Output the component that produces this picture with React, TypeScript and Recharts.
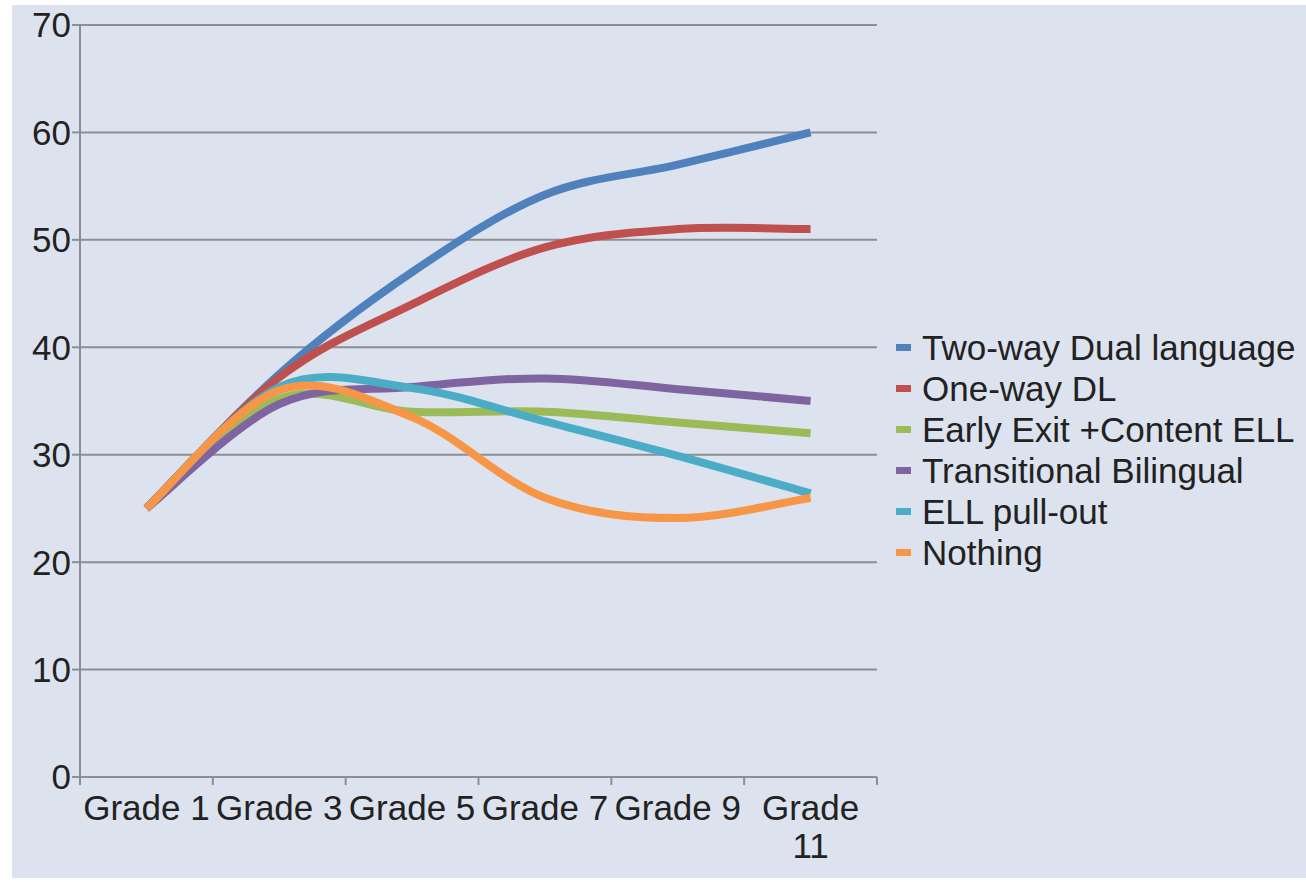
import { LineChart, Line, XAxis, YAxis, CartesianGrid } from 'recharts';

const grades = ['Grade 1', 'Grade 3', 'Grade 5', 'Grade 7', 'Grade 9', 'Grade 11'];
const twoWay = [25, 37.5, 47, 54.2, 57, 60];
const oneWay = [25, 37.2, 44, 49.3, 51, 51];
const earlyExit = [25, 35.2, 34, 34, 33, 32];
const transitional = [25, 34.7, 36.3, 37.1, 36.1, 35];
const pullOut = [25, 36.3, 36.2, 33.1, 29.9, 26.4];
const nothing = [25, 36, 33.5, 26, 24.1, 26];
const yTicks = [0, 10, 20, 30, 40, 50, 60, 70];

const series = [
  { key: 'twoWay', name: 'Two-way Dual language', color: '#4f81bd', values: twoWay },
  { key: 'oneWay', name: 'One-way DL', color: '#c0504d', values: oneWay },
  { key: 'earlyExit', name: 'Early Exit +Content ELL', color: '#9bbb59', values: earlyExit },
  { key: 'transitional', name: 'Transitional Bilingual', color: '#8064a2', values: transitional },
  { key: 'pullOut', name: 'ELL pull-out', color: '#4bacc6', values: pullOut },
  { key: 'nothing', name: 'Nothing', color: '#f79646', values: nothing },
];

const data = grades.map((grade, i) => {
  const row: Record<string, string | number> = { grade };
  series.forEach((s) => (row[s.key] = s.values[i]));
  return row;
});

const FONT = '"Liberation Sans", Arial, sans-serif';
const AXIS = '#8a8f96';
const PLOT_W = 797;
const BAND = PLOT_W / grades.length;
const FS = 35;

// smooth line like the spreadsheet one (catmull-rom through every point)
const smooth = (context: any) => {
  let pts: number[][] = [];
  return {
    areaStart() {},
    areaEnd() {},
    lineStart() {
      pts = [];
    },
    point(x: number, y: number) {
      pts.push([+x, +y]);
    },
    lineEnd() {
      if (!pts.length) return;
      context.moveTo(pts[0][0], pts[0][1]);
      for (let i = 0; i < pts.length - 1; i++) {
        const p0 = pts[Math.max(i - 1, 0)];
        const p1 = pts[i];
        const p2 = pts[i + 1];
        const p3 = pts[Math.min(i + 2, pts.length - 1)];
        context.bezierCurveTo(
          p1[0] + (p2[0] - p0[0]) / 6,
          p1[1] + (p2[1] - p0[1]) / 6,
          p2[0] - (p3[0] - p1[0]) / 6,
          p2[1] - (p3[1] - p1[1]) / 6,
          p2[0],
          p2[1]
        );
      }
    },
  };
};

const GradeTick = (props: any) => {
  const { x, y, payload, index } = props;
  const half = BAND / 2;
  const label = String(payload.value);
  // rough width check, long labels wrap onto two lines
  const lines = label.length * FS * 0.5 > BAND ? label.split(' ') : [label];
  return (
    <g>
      <line x1={x - half} x2={x - half} y1={y} y2={y + 8} stroke={AXIS} strokeWidth={2} />
      {index === grades.length - 1 && (
        <line x1={x + half} x2={x + half} y1={y} y2={y + 8} stroke={AXIS} strokeWidth={2} />
      )}
      <text x={x} y={y + 43} textAnchor="middle" fontSize={FS} fontFamily={FONT} fill="#222">
        {lines.map((l, i) => (
          <tspan key={i} x={x} dy={i === 0 ? 0 : 38}>
            {l}
          </tspan>
        ))}
      </text>
    </g>
  );
};

export default function App() {
  return (
    <div style={{ position: 'relative', width: 1306, height: 882, background: '#fff', fontFamily: FONT }}>
      <style>{'body{margin:0}'}</style>
      <div style={{ position: 'absolute', left: 12, top: 5, width: 1294, height: 873, background: '#dce3ee' }} />
      <div style={{ position: 'absolute', left: 0, top: 0 }}>
        <LineChart width={890} height={882} data={data} margin={{ top: 25, right: 13, left: 12, bottom: 5 }}>
          <CartesianGrid horizontal vertical={false} stroke={AXIS} strokeWidth={2} />
          <XAxis
            dataKey="grade"
            height={100}
            padding={{ left: BAND / 2, right: BAND / 2 }}
            axisLine={{ stroke: AXIS, strokeWidth: 2 }}
            tickLine={false}
            tickSize={0}
            tickMargin={0}
            interval={0}
            tick={<GradeTick />}
          />
          <YAxis
            domain={[0, 70]}
            ticks={yTicks}
            width={68}
            axisLine={{ stroke: AXIS, strokeWidth: 2 }}
            tickLine={{ stroke: AXIS, strokeWidth: 2 }}
            tickSize={8}
            tickMargin={1}
            tick={{ fontSize: FS, fontFamily: FONT, fill: '#222' }}
          />
          {series.map((s) => (
            <Line
              key={s.key}
              dataKey={s.key}
              name={s.name}
              type={smooth as any}
              stroke={s.color}
              strokeWidth={8}
              dot={false}
              activeDot={false}
              isAnimationActive={false}
            />
          ))}
        </LineChart>
      </div>
      <div style={{ position: 'absolute', left: 896, top: 327 }}>
        {series.map((s) => (
          <div key={s.key} style={{ display: 'flex', alignItems: 'center', height: 41 }}>
            <span style={{ display: 'inline-block', width: 15, height: 7, background: s.color, marginRight: 11 }} />
            <span style={{ fontSize: FS, color: '#222', whiteSpace: 'nowrap' }}>{s.name}</span>
          </div>
        ))}
      </div>
    </div>
  );
}
